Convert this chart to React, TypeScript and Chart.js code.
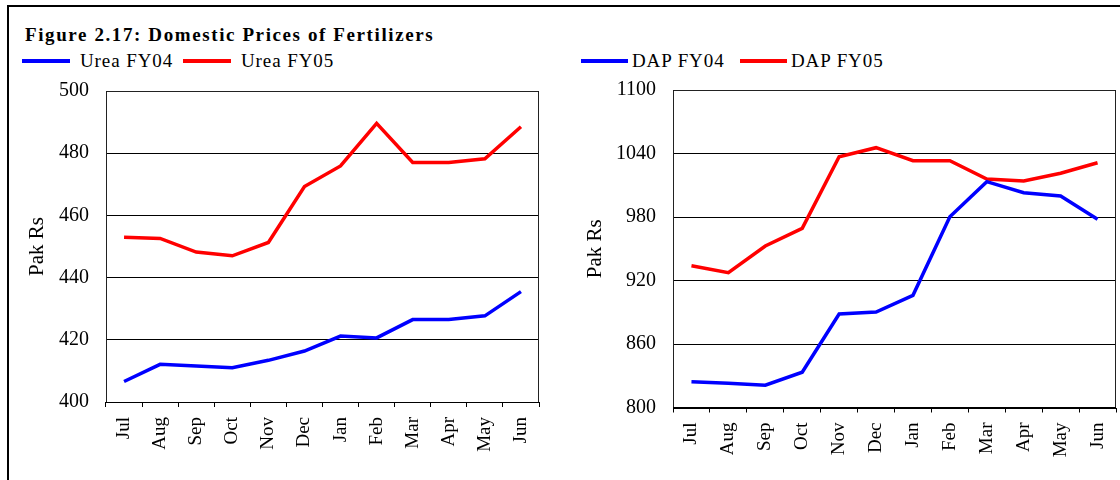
import React, { useEffect, useRef } from "react";
import { Chart, registerables } from "chart.js";

Chart.register(...registerables);

const months = ["Jul", "Aug", "Sep", "Oct", "Nov", "Dec", "Jan", "Feb", "Mar", "Apr", "May", "Jun"];

const ureaFY04 = [406.6, 412.1, 411.6, 411.0, 413.4, 416.4, 421.2, 420.6, 426.5, 426.5, 427.7, 435.5];
const ureaFY05 = [453.0, 452.6, 448.2, 447.0, 451.3, 469.3, 475.9, 489.6, 477.0, 477.0, 478.2, 488.5];
const dapFY04 = [824.4, 822.9, 821.0, 833.3, 888.3, 890.2, 906.0, 980.3, 1013.4, 1003.0, 999.8, 977.8];
const dapFY05 = [934.0, 927.4, 952.6, 969.3, 1037.0, 1045.5, 1033.2, 1033.2, 1015.9, 1014.0, 1021.3, 1031.3];

const ureaTicks = [400, 420, 440, 460, 480, 500];
const dapTicks = [800, 860, 920, 980, 1040, 1100];

const titleText = "Figure 2.17: Domestic Prices of Fertilizers";
const yTitle = "Pak Rs";
const ureaNames = ["Urea FY04", "Urea FY05"];
const dapNames = ["DAP FY04", "DAP FY05"];

const BLUE = "#0000ff";
const RED = "#ff0000";
const FONT = "'Liberation Serif', 'Times New Roman', serif";

type Layout = {
  yWidth: number;
  xHeight: number;
  padTop: number;
  padRight: number;
  titlePad: number;
  bottomWidth: number;
};

const boxPlugin = {
  id: "plotBox",
  beforeDatasetsDraw(chart: any, _args: any, opts: any) {
    const { ctx, chartArea } = chart;
    const { left, right, top, bottom } = chartArea;
    ctx.save();
    ctx.strokeStyle = "#222";
    ctx.lineWidth = 1;
    ctx.beginPath();
    ctx.moveTo(Math.round(left) + 0.5, Math.round(bottom));
    ctx.lineTo(Math.round(left) + 0.5, Math.round(top) + 0.5);
    ctx.lineTo(Math.round(right) - 0.5, Math.round(top) + 0.5);
    ctx.lineTo(Math.round(right) - 0.5, Math.round(bottom));
    ctx.stroke();
    ctx.strokeStyle = "#000";
    ctx.lineWidth = opts.bottomWidth || 1;
    ctx.beginPath();
    const by = Math.round(bottom) + (opts.bottomWidth % 2 === 1 ? 0.5 : 0);
    ctx.moveTo(Math.round(left), by);
    ctx.lineTo(Math.round(right), by);
    ctx.stroke();
    ctx.restore();
  },
};

function makeConfig(names: string[], s1: number[], s2: number[], ticks: number[], layout: Layout): any {
  return {
    type: "line",
    data: {
      labels: months,
      datasets: [
        { label: names[0], data: s1, borderColor: BLUE, backgroundColor: BLUE, borderWidth: 3.5, pointRadius: 0, tension: 0 },
        { label: names[1], data: s2, borderColor: RED, backgroundColor: RED, borderWidth: 3.5, pointRadius: 0, tension: 0 },
      ],
    },
    options: {
      responsive: false,
      maintainAspectRatio: false,
      animation: false,
      layout: { padding: { left: 0, top: 0, right: layout.padRight, bottom: 0 } },
      plugins: {
        legend: { display: false },
        tooltip: { enabled: false },
        plotBox: { bottomWidth: layout.bottomWidth },
      },
      scales: {
        x: {
          type: "category",
          offset: true,
          grid: {
            display: true,
            offset: true,
            drawOnChartArea: false,
            drawTicks: true,
            tickLength: 5,
            color: "#000",
            lineWidth: 1,
          },
          border: { display: false },
          ticks: {
            autoSkip: false,
            minRotation: 90,
            maxRotation: 90,
            padding: 10,
            color: "#000",
            font: { family: FONT, size: 19 },
          },
          afterFit: (scale: any) => {
            scale.height = layout.xHeight;
            scale.paddingLeft = 0;
            scale.paddingRight = 0;
          },
        },
        y: {
          min: ticks[0],
          max: ticks[ticks.length - 1],
          afterBuildTicks: (scale: any) => {
            scale.ticks = ticks.map((v) => ({ value: v }));
          },
          grid: { color: "#000", lineWidth: 1, drawTicks: false },
          border: { display: false },
          ticks: {
            padding: 17,
            color: "#000",
            font: { family: FONT, size: 20 },
            callback: (v: any) => String(v),
          },
          title: {
            display: true,
            text: yTitle,
            color: "#000",
            font: { family: FONT, size: 21 },
            padding: { top: layout.titlePad, bottom: 0 },
          },
          afterFit: (scale: any) => {
            scale.width = layout.yWidth;
            scale.paddingTop = layout.padTop;
            scale.paddingBottom = 0;
          },
        },
      },
    },
    plugins: [boxPlugin],
  };
}

function LineChart(props: { names: string[]; s1: number[]; s2: number[]; ticks: number[]; layout: Layout; left: number }) {
  const ref = useRef<HTMLCanvasElement | null>(null);
  useEffect(() => {
    if (!ref.current) return;
    const chart = new Chart(ref.current, makeConfig(props.names, props.s1, props.s2, props.ticks, props.layout));
    return () => chart.destroy();
  }, []);
  return (
    <canvas
      ref={ref}
      width={560}
      height={400}
      style={{ position: "absolute", left: props.left, top: 80, width: 560, height: 400 }}
    />
  );
}

function LegendItem(props: { color: string; text: string; left: number; lineWidth: number; gap: number }) {
  return (
    <div
      style={{
        position: "absolute",
        left: props.left,
        top: 49,
        height: 24,
        display: "flex",
        alignItems: "center",
        whiteSpace: "nowrap",
      }}
    >
      <span style={{ display: "inline-block", width: props.lineWidth, height: 4, background: props.color }} />
      <span
        style={{
          marginLeft: props.gap,
          fontFamily: FONT,
          fontSize: 19,
          letterSpacing: "0.9px",
          color: "#000",
          lineHeight: "24px",
        }}
      >
        {props.text}
      </span>
    </div>
  );
}

export default function App() {
  return (
    <div style={{ position: "fixed", left: 0, top: 0, width: 1120, height: 480, overflow: "hidden", background: "#fff" }}>
      <div
        style={{
          position: "absolute",
          left: 7,
          top: 5,
          width: 1140,
          height: 520,
          border: "2px solid #000",
          boxSizing: "border-box",
        }}
      />
      <div
        style={{
          position: "absolute",
          left: 25,
          top: 23,
          fontFamily: FONT,
          fontWeight: "bold",
          fontSize: 19,
          letterSpacing: "1.6px",
          lineHeight: "24px",
          color: "#000",
          whiteSpace: "nowrap",
        }}
      >
        {titleText}
      </div>
      <LegendItem color={BLUE} text={ureaNames[0]} left={22} lineWidth={48} gap={10} />
      <LegendItem color={RED} text={ureaNames[1]} left={183} lineWidth={48} gap={10} />
      <LegendItem color={BLUE} text={dapNames[0]} left={581} lineWidth={47} gap={4} />
      <LegendItem color={RED} text={dapNames[1]} left={740} lineWidth={47} gap={4} />
      <LineChart
        names={ureaNames}
        s1={ureaFY04}
        s2={ureaFY05}
        ticks={ureaTicks}
        left={0}
        layout={{ yWidth: 106, xHeight: 78, padTop: 11, padRight: 21, titlePad: 25, bottomWidth: 1 }}
      />
      <LineChart
        names={dapNames}
        s1={dapFY04}
        s2={dapFY05}
        ticks={dapTicks}
        left={560}
        layout={{ yWidth: 113, xHeight: 72.5, padTop: 10, padRight: 4, titlePad: 22.5, bottomWidth: 2 }}
      />
    </div>
  );
}
